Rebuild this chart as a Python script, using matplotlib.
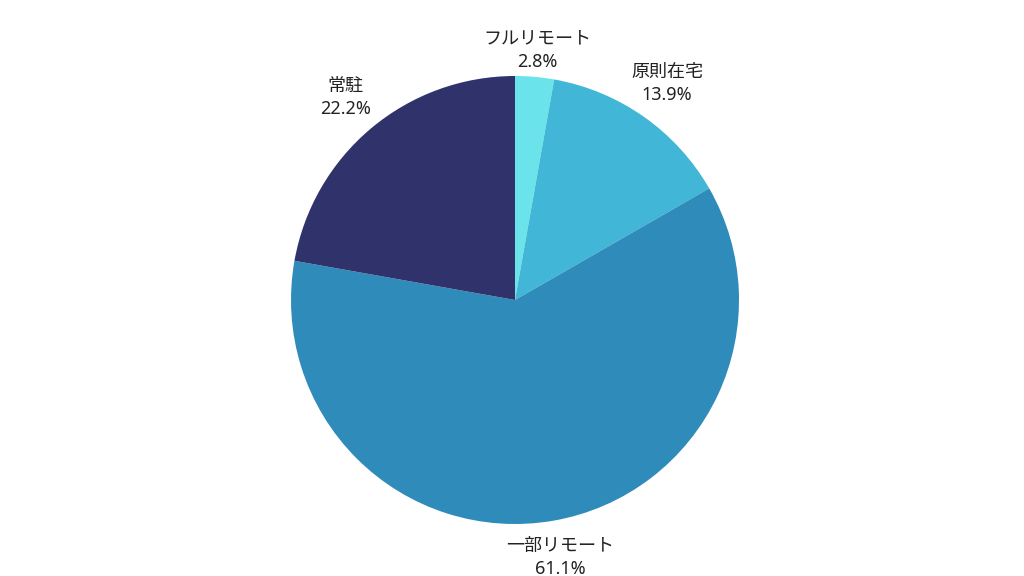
import numpy as np
import matplotlib.pyplot as plt

plt.rcParams['font.family'] = ['Noto Sans', 'Noto Sans CJK JP', 'DejaVu Sans']

# data
labels = ['フルリモート', '原則在宅', '一部リモート', '常駐']
shares = [2.8, 13.9, 61.1, 22.2]
colors = ['#6ae4ea', '#41b6d6', '#2e8bba', '#30336b']
label_dist = [1.12, 1.18, 1.165, 1.18]

fig = plt.figure(figsize=(10.24, 5.76), dpi=100)
ax = fig.add_axes([0, 0, 1, 1])

wedges, _ = ax.pie(shares, colors=colors, startangle=90, counterclock=False)

for w, l, v, d in zip(wedges, labels, shares, label_dist):
    ang = np.deg2rad((w.theta1 + w.theta2) / 2)
    ax.text(d * np.cos(ang), d * np.sin(ang), f'{l}\n{v}%',
            ha='center', va='center', fontsize=13, color='#222222',
            linespacing=1.35)

r = 224.0
ax.set_xlim(-515 / r, (1024 - 515) / r)
ax.set_ylim(-(576 - 300) / r, 300 / r)
ax.set_aspect('equal')
ax.axis('off')

fig.savefig('out.png', dpi=100)
